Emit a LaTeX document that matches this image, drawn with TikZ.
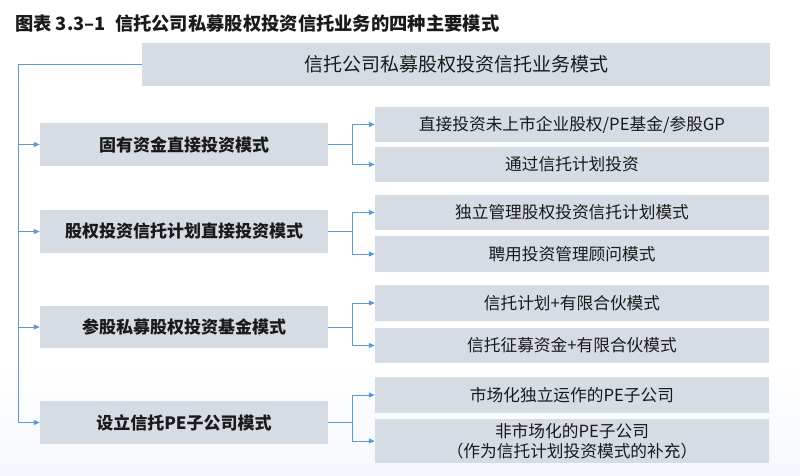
\documentclass[tikz,border=0pt]{standalone}
\usepackage{fontspec}
\setmainfont{Noto Sans CJK SC}
\newfontfamily\cjk{Noto Sans CJK SC}
\usetikzlibrary{arrows.meta}
\definecolor{boxfill}{HTML}{D6DCE4}
\definecolor{linkblue}{HTML}{5B9BD5}
\definecolor{txt}{HTML}{1A1A1A}
\tikzset{
  boxbase/.style={fill=boxfill, draw=none, inner sep=0pt, align=center, text=txt},
  topbox/.style={boxbase, minimum width=628pt, minimum height=43pt, font=\cjk\fontsize{19}{22}\selectfont},
  leftbox/.style={boxbase, minimum width=288pt, minimum height=43pt, font=\cjk\bfseries\fontsize{17}{20}\selectfont},
  rightbox/.style={boxbase, minimum width=394pt, minimum height=35pt, font=\cjk\fontsize{16.7}{19}\selectfont},
  link/.style={draw=linkblue, line width=1pt},
  linkarrow/.style={link, -{Triangle[length=6pt,width=5pt]}},
  titletext/.style={anchor=base west, inner sep=0pt, text=txt, font=\cjk\bfseries\fontsize{18.3}{21}\selectfont}
}
\begin{document}
\begin{tikzpicture}[x=1pt,y=-1pt]
\useasboundingbox (0,0) rectangle (800,476);
\shade[top color=white, bottom color={rgb,255:red,244;green,247;blue,252}, draw=none] (0,360) rectangle (800,476);
\node[titletext] (title) at (15,31) {图表 3.3–1\enspace 信托公司私募股权投资信托业务的四种主要模式};
\node[topbox] (top) at (456,64.5) {信托公司私募股权投资信托业务模式};
\node[leftbox] (L1) at (184,144.5) {固有资金直接投资模式};
\node[leftbox] (L2) at (184,231.5) {股权投资信托计划直接投资模式};
\node[leftbox, minimum height=42pt] (L3) at (184,327) {参股私募股权投资基金模式};
\node[leftbox] (L4) at (184,422.5) {设立信托PE子公司模式};
\node[rightbox] (R1) at (572,124.5) {直接投资未上市企业股权/PE基金/参股GP};
\node[rightbox] (R2) at (572,164.5) {通过信托计划投资};
\node[rightbox] (R3) at (572,212.5) {独立管理股权投资信托计划模式};
\node[rightbox, minimum height=36pt] (R4) at (572,254) {聘用投资管理顾问模式};
\node[rightbox, minimum height=36pt] (R5) at (572,303) {信托计划+有限合伙模式};
\node[rightbox] (R6) at (572,345.5) {信托征募资金+有限合伙模式};
\node[rightbox, minimum height=36pt] (R7) at (572,395) {市场化独立运作的PE子公司};
\node[rightbox, minimum height=44pt, font=\cjk\fontsize{16.7}{20}\selectfont] (R8) at (572,441) {非市场化的PE子公司\\（作为信托计划投资模式的补充）};
% spine
\coordinate (s1) at (18,144.5);
\coordinate (s2) at (18,231.5);
\coordinate (s3) at (18,327);
\coordinate (s4) at (18,422.5);
\draw[linkarrow] (top.west) -| (s4) -- (L4.west);
\draw[linkarrow] (s1) -- (L1.west);
\draw[linkarrow] (s2) -- (L2.west);
\draw[linkarrow] (s3) -- (L3.west);
% branches
\coordinate (b1) at (352,144.5);
\coordinate (b2) at (352,231.5);
\coordinate (b3) at (352,327);
\coordinate (b4) at (352,422.5);
\draw[link] (L1.east) -- (b1);
\draw[linkarrow] (b1) |- (R1.west);
\draw[linkarrow] (b1) |- (R2.west);
\draw[link] (L2.east) -- (b2);
\draw[linkarrow] (b2) |- (R3.west);
\draw[linkarrow] (b2) |- (R4.west);
\draw[link] (L3.east) -- (b3);
\draw[linkarrow] (b3) |- (R5.west);
\draw[linkarrow] (b3) |- (R6.west);
\draw[link] (L4.east) -- (b4);
\draw[linkarrow] (b4) |- (R7.west);
\draw[linkarrow] (b4) |- (R8.west);
\end{tikzpicture}
\end{document}
